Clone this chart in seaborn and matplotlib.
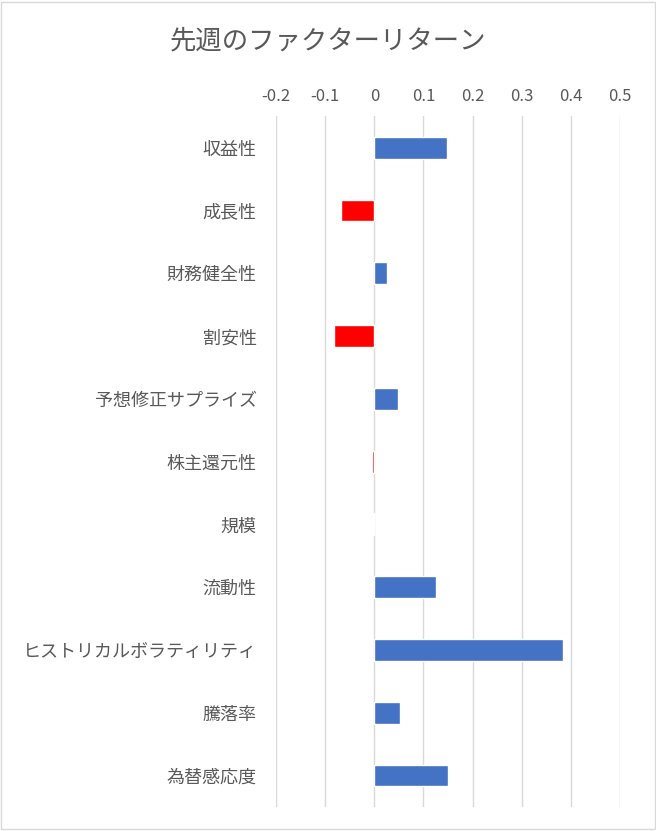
import matplotlib
matplotlib.use('Agg')
import matplotlib.pyplot as plt
import seaborn as sns
import pandas as pd

factors = ['収益性', '成長性', '財務健全性', '割安性', '予想修正サプライズ', '株主還元性',
           '規模', '流動性', 'ヒストリカルボラティリティ', '騰落率', '為替感応度']
returns = [0.148, -0.067, 0.026, -0.083, 0.049, -0.005, -0.003, 0.126, 0.384, 0.053, 0.150]

df = pd.DataFrame({'factor': factors, 'ret': returns})
colors = ['#4472C4' if v >= 0 else '#FF0000' for v in returns]

sns.set_style('white')
plt.rcParams['font.family'] = ['Noto Sans CJK JP', 'DejaVu Sans']

fig = plt.figure(figsize=(6.56, 8.31), dpi=100)
ax = fig.add_axes([0.421, 0.029, 0.524, 0.831])
sns.barplot(data=df, x='ret', y='factor', hue='factor', palette=colors, saturation=1,
            legend=False, width=0.35, ax=ax, orient='h')

ax.set_xlim(-0.2, 0.5)
ticks = [-0.2, -0.1, 0, 0.1, 0.2, 0.3, 0.4, 0.5]
ax.set_xticks(ticks)
ax.set_xticklabels(['-0.2', '-0.1', '0', '0.1', '0.2', '0.3', '0.4', '0.5'])
ax.xaxis.tick_top()
ax.tick_params(axis='x', length=0, labelsize=12, colors='#595959', pad=8)
ax.tick_params(axis='y', length=0, labelsize=13, colors='#595959', pad=14)
ax.grid(axis='x', color='#D9D9D9', linewidth=1)
ax.set_axisbelow(True)
for s in ax.spines.values():
    s.set_visible(False)
ax.set_xlabel('')
ax.set_ylabel('')

fig.text(0.5, 0.951, '先週のファクターリターン', ha='center', va='center',
         fontsize=19, color='#595959')
fig.patches.append(plt.Rectangle((0.002, 0.002), 0.996, 0.996, transform=fig.transFigure,
                                 fill=False, edgecolor='#D9D9D9', linewidth=1))
fig.savefig('out.png', dpi=100)
